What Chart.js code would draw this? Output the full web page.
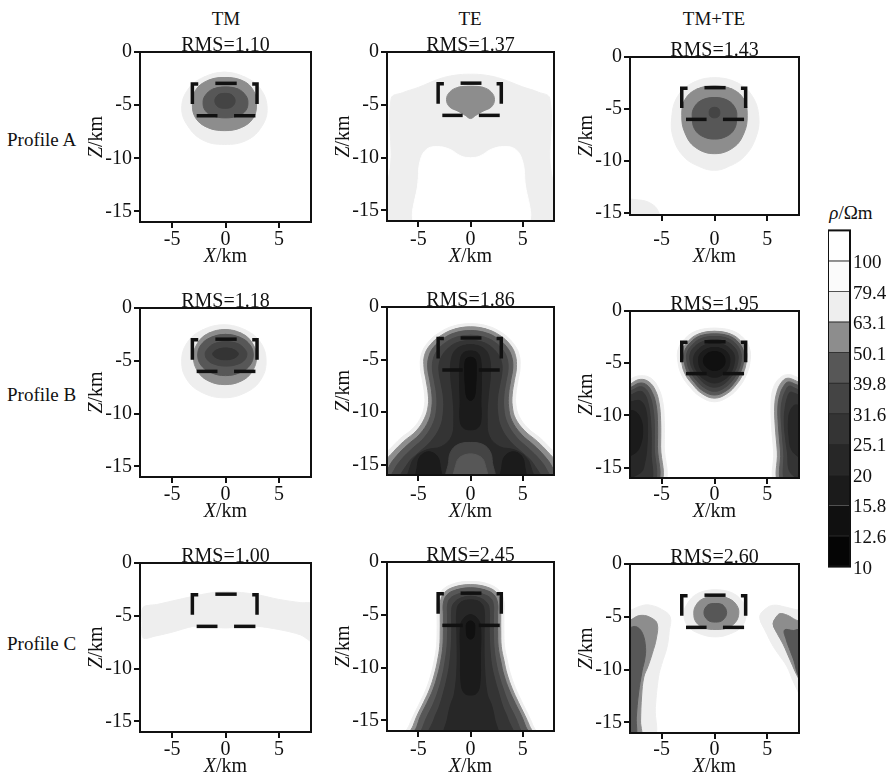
<!DOCTYPE html>
<html>
<head>
<meta charset="utf-8">
<title>Inversion results</title>
<script src="https://cdn.jsdelivr.net/npm/chart.js@4.4.1/dist/chart.umd.min.js"></script>
<style>
  html, body { margin: 0; padding: 0; background: #fff; }
  body { width: 891px; height: 783px; position: relative; overflow: hidden; font-family: 'Liberation Serif', 'Times New Roman', serif; }
  canvas { position: absolute; }
  .lbl { position: absolute; font-size: 19px; line-height: 19px; white-space: nowrap; color: #111; }
  .ctr { transform: translateX(-50%); }
</style>
</head>
<body>
<script>
const FAMILY = '"Liberation Serif", "Times New Roman", serif';
const TICK_SIZE = 20;
const TEXT_SIZE = 20;
const BAR_SIZE = 19;
const INK = '#111';

// axis ticks (km)
const xTickValues = [-5, 0, 5];
const yTickValues = [0, -5, -10, -15];

// resistivity levels (ohm-m), bottom to top of the colour bar
const levelLabels = ['10', '12.6', '15.8', '20', '25.1', '31.6', '39.8', '50.1', '63.1', '79.4', '100'];
const levelColors = ['#050505', '#101010', '#1b1b1b', '#272727', '#343434', '#444444', '#575757', '#8d8d8d', '#eeeeee', '#fbfbfb', '#ffffff'];

const modeNames = ['TM', 'TE', 'TM+TE'];
const profileNames = ['Profile A', 'Profile B', 'Profile C'];
const rmsValues = ['1.10', '1.37', '1.43', '1.18', '1.86', '1.95', '1.00', '2.45', '2.60'];

// model block outline (dashed), [x, z] in km
const blockOutline = [
  [[-0.95, -2.95], [1.05, -2.95]],
  [[-2.55, -3.0], [-3.1, -3.0], [-3.1, -4.9]],
  [[2.5, -3.0], [2.95, -3.0], [2.95, -4.9]],
  [[-2.7, -6.0], [-0.75, -6.0]],
  [[0.8, -6.0], [2.8, -6.0]]
];

// contour regions: [level index, boundary [x, z], tension]
const tmA = [
  [8, [[-0.1,-1.9],[1.9,-2.4],[3.3,-3.5],[3.9,-5.3],[3.4,-7.0],[2.0,-8.3],[-0.1,-8.7],[-2.1,-8.3],[-3.5,-7.0],[-4.1,-5.3],[-3.5,-3.5],[-2.1,-2.4]]],
  [7, [[-0.1,-2.4],[1.6,-2.7],[2.6,-3.6],[2.9,-4.9],[2.6,-6.2],[1.5,-7.1],[-0.1,-7.4],[-1.7,-7.1],[-2.8,-6.2],[-3.1,-4.9],[-2.8,-3.6],[-1.7,-2.7]]],
  [6, [[0,-3.3],[1.2,-3.5],[1.9,-4.1],[2.1,-4.75],[1.9,-5.5],[1.2,-6.0],[0,-6.2],[-1.2,-6.0],[-1.9,-5.5],[-2.1,-4.75],[-1.9,-4.1],[-1.2,-3.5]]],
  [5, [[-0.05,-3.9],[0.6,-4.05],[0.9,-4.6],[0.6,-5.15],[-0.05,-5.3],[-0.7,-5.15],[-1.0,-4.6],[-0.7,-4.05]]]
];

const teA = [
  [8, [[-7.6,-16.5],[-7.6,-10],[-7.6,-4.4],[-6.5,-3.85],[-5,-3.35],[-3,-2.55],[-1.5,-2.2],[0,-2.1],[1.5,-2.2],[3,-2.55],[5,-3.3],[6.5,-3.8],[7.6,-4.4],[7.6,-10],[7.6,-16.5]]],
  [10, [[-5.0,-16.5],[-5.0,-12],[-4.8,-10.2],[-4.2,-9.2],[-3.2,-8.95],[-2.0,-9.2],[-0.9,-9.85],[0,-10.0],[0.9,-9.85],[2.0,-9.2],[3.2,-8.95],[4.3,-9.2],[4.95,-10.2],[5.2,-12],[5.2,-16.5]]],
  [7, [[0,-3.25],[1.2,-3.35],[2.0,-3.8],[2.3,-4.5],[2.0,-5.2],[1.2,-5.6],[0.5,-6.0],[0,-6.3],[-0.5,-6.0],[-1.2,-5.6],[-2.0,-5.2],[-2.3,-4.5],[-2.0,-3.8],[-1.2,-3.35]]]
];

const jointA = [
  [8, [[0,-2.0],[2.2,-2.5],[3.6,-3.8],[4.2,-5.8],[3.9,-7.8],[2.8,-9.6],[1.2,-10.6],[0,-10.9],[-1.3,-10.6],[-2.9,-9.6],[-3.9,-7.8],[-4.05,-5.8],[-3.5,-3.8],[-2.1,-2.5]]],
  [7, [[0,-2.8],[1.7,-3.1],[2.8,-4.1],[3.1,-5.6],[2.8,-7.3],[1.8,-8.7],[0,-9.3],[-1.8,-8.7],[-2.8,-7.3],[-3.1,-5.6],[-2.8,-4.1],[-1.7,-3.1]]],
  [6, [[0,-3.9],[1.3,-4.2],[2.0,-5.0],[2.1,-5.9],[1.9,-6.9],[1.2,-7.6],[0,-7.9],[-1.2,-7.6],[-1.9,-6.9],[-2.1,-5.9],[-2.0,-5.0],[-1.3,-4.2]]],
  [5, [[0,-4.85],[0.4,-5.0],[0.5,-5.35],[0.4,-5.7],[0,-5.85],[-0.4,-5.7],[-0.5,-5.35],[-0.4,-5.0]]],
  [8, [[-8.5,-16.5],[-8.5,-13.9],[-7.2,-13.75],[-6.0,-14.1],[-5.3,-14.9],[-5.05,-16.5]]]
];

const tmB = [
  [8, [[-0.15,-1.6],[1.9,-2.1],[3.3,-3.3],[3.8,-5.05],[3.3,-6.8],[1.9,-8.0],[-0.15,-8.5],[-2.2,-8.0],[-3.6,-6.8],[-4.1,-5.05],[-3.6,-3.3],[-2.2,-2.1]]],
  [7, [[-0.05,-2.05],[1.5,-2.4],[2.5,-3.3],[2.9,-4.65],[2.5,-6.0],[1.5,-6.9],[-0.05,-7.25],[-1.6,-6.9],[-2.6,-6.0],[-3.0,-4.65],[-2.6,-3.3],[-1.6,-2.4]]],
  [6, [[0,-2.5],[1.4,-2.8],[2.3,-3.5],[2.6,-4.45],[2.3,-5.4],[1.4,-6.1],[0,-6.4],[-1.4,-6.1],[-2.3,-5.4],[-2.6,-4.45],[-2.3,-3.5],[-1.4,-2.8]]],
  [5, [[0.05,-3.2],[1.2,-3.4],[1.8,-3.9],[2.0,-4.35],[1.8,-4.9],[1.2,-5.3],[0.05,-5.5],[-1.1,-5.3],[-1.7,-4.9],[-1.9,-4.35],[-1.7,-3.9],[-1.1,-3.4]]],
  [4, [[0,-3.8],[0.8,-3.95],[1.2,-4.35],[0.8,-4.75],[0,-4.9],[-0.8,-4.75],[-1.2,-4.35],[-0.8,-3.95]]]
];

const teB = [
  [8, [[0,-1.6],[1.6,-1.8],[3.0,-2.45],[4.05,-3.4],[4.65,-4.5],[4.75,-5.8],[4.55,-7.0],[4.35,-8.3],[4.35,-9.3],[4.65,-10.4],[5.5,-11.55],[6.7,-12.5],[7.7,-13.5],[8.5,-14.3],[8.8,-16.5],
       [-8.8,-16.5],[-8.5,-14.3],[-7.7,-13.5],[-6.7,-12.5],[-5.5,-11.55],[-4.7,-10.4],[-4.4,-9.3],[-4.4,-8.3],[-4.6,-7.0],[-4.8,-5.8],[-4.7,-4.5],[-4.1,-3.4],[-3.0,-2.45],[-1.6,-1.8]]],
  [7, [[0,-1.9],[1.5,-2.1],[2.8,-2.7],[3.8,-3.6],[4.3,-4.6],[4.4,-5.8],[4.2,-7.0],[4.0,-8.3],[4.0,-9.4],[4.3,-10.6],[5.2,-11.8],[6.4,-12.8],[7.4,-13.8],[8.2,-14.8],[8.6,-16.5],
       [-8.6,-16.5],[-8.2,-14.8],[-7.4,-13.8],[-6.4,-12.8],[-5.2,-11.8],[-4.4,-10.6],[-4.05,-9.4],[-4.05,-8.3],[-4.25,-7.0],[-4.45,-5.8],[-4.4,-4.6],[-3.85,-3.6],[-2.8,-2.7],[-1.5,-2.1]]],
  [6, [[0,-2.25],[1.45,-2.45],[2.6,-3.0],[3.5,-3.85],[3.95,-4.75],[4.05,-5.8],[3.85,-7.0],[3.65,-8.3],[3.65,-9.5],[3.95,-10.8],[4.85,-12.1],[6.05,-13.15],[7.05,-14.15],[7.8,-15.2],[8.2,-16.5],
       [-8.2,-16.5],[-7.8,-15.2],[-7.05,-14.15],[-6.05,-13.15],[-4.85,-12.1],[-4.0,-10.8],[-3.7,-9.5],[-3.7,-8.3],[-3.9,-7.0],[-4.1,-5.8],[-4.0,-4.75],[-3.55,-3.85],[-2.6,-3.0],[-1.45,-2.45]]],
  [5, [[0,-2.7],[1.4,-2.9],[2.4,-3.4],[3.1,-4.1],[3.5,-4.9],[3.6,-5.9],[3.4,-7.1],[3.2,-8.4],[3.2,-9.7],[3.5,-11.0],[4.4,-12.4],[5.6,-13.5],[6.6,-14.5],[7.3,-15.5],[7.6,-16.5],
       [-7.6,-16.5],[-7.3,-15.5],[-6.6,-14.5],[-5.6,-13.5],[-4.4,-12.4],[-3.55,-11.0],[-3.25,-9.7],[-3.25,-8.4],[-3.45,-7.1],[-3.65,-5.9],[-3.55,-4.9],[-3.15,-4.1],[-2.4,-3.4],[-1.4,-2.9]]],
  [4, [[0,-3.2],[1.3,-3.4],[2.1,-3.9],[2.7,-4.6],[3.0,-5.4],[3.0,-6.3],[2.8,-7.4],[2.6,-8.6],[2.6,-10.0],[2.9,-11.4],[3.8,-12.8],[5.0,-13.9],[6.0,-14.9],[6.6,-16.5],
       [-6.6,-16.5],[-6.0,-14.9],[-5.0,-13.9],[-3.8,-12.8],[-2.9,-11.4],[-2.6,-10.0],[-2.6,-8.6],[-2.8,-7.4],[-3.0,-6.3],[-3.0,-5.4],[-2.7,-4.6],[-2.1,-3.9],[-1.3,-3.4]]],
  [3, [[0,-3.6],[1.2,-3.9],[1.8,-4.8],[1.9,-6.5],[1.7,-8.5],[1.6,-10.5],[1.8,-12.3],[2.8,-13.3],[4.2,-13.6],[5.3,-14.3],[5.8,-15.3],[5.9,-16.5],
       [-5.9,-16.5],[-5.8,-15.3],[-5.3,-14.3],[-4.2,-13.6],[-2.8,-13.3],[-1.8,-12.3],[-1.6,-10.5],[-1.7,-8.5],[-1.9,-6.5],[-1.8,-4.8],[-1.2,-3.9]]],
  [5, [[0,-12.9],[1.2,-13.1],[1.9,-13.8],[2.1,-14.8],[2.2,-16.5],[-2.2,-16.5],[-2.1,-14.8],[-1.9,-13.8],[-1.2,-13.1]]],
  [6, [[0,-14.0],[1.0,-14.3],[1.4,-15.0],[1.5,-16.5],[-1.5,-16.5],[-1.4,-15.0],[-1.0,-14.3]]],
  [2, [[0,-4.2],[0.7,-4.4],[1.0,-5.2],[1.05,-7],[1.0,-9],[1.0,-10.8],[0.7,-11.5],[0,-11.7],[-0.7,-11.5],[-1.0,-10.8],[-1.0,-9],[-1.05,-7],[-1.0,-5.2],[-0.7,-4.4]]],
  [2, [[-4.0,-13.8],[-3.2,-14.2],[-2.9,-15.2],[-2.9,-16.5],[-5.1,-16.5],[-5.1,-15.2],[-4.8,-14.2]]],
  [2, [[4.1,-13.8],[4.9,-14.2],[5.2,-15.2],[5.2,-16.5],[3.0,-16.5],[3.0,-15.2],[3.3,-14.2]]],
  [1, [[0,-4.8],[0.45,-5.0],[0.55,-6.0],[0.5,-7.5],[0.35,-8.6],[0,-8.9],[-0.35,-8.6],[-0.5,-7.5],[-0.55,-6.0],[-0.45,-5.0]]]
];

const jointB = [
  [8, [[0,-1.65],[1.7,-1.9],[2.8,-2.65],[3.35,-3.7],[3.35,-4.95],[3.0,-6.15],[2.35,-7.25],[1.35,-8.2],[0,-8.7],[-1.35,-8.2],[-2.35,-7.25],[-3.1,-6.15],[-3.45,-4.95],[-3.45,-3.7],[-2.8,-2.65],[-1.7,-1.9]]],
  [7, [[0,-1.95],[1.5,-2.2],[2.5,-2.9],[3.0,-3.8],[3.0,-4.9],[2.7,-6.0],[2.1,-7.0],[1.2,-7.9],[0,-8.35],[-1.2,-7.9],[-2.1,-7.0],[-2.8,-6.0],[-3.1,-4.9],[-3.1,-3.8],[-2.5,-2.9],[-1.5,-2.2]]],
  [6, [[0,-2.2],[1.4,-2.4],[2.3,-3.05],[2.75,-3.9],[2.75,-4.9],[2.45,-5.9],[1.9,-6.85],[1.1,-7.65],[0,-8.05],[-1.1,-7.65],[-1.9,-6.85],[-2.55,-5.9],[-2.85,-4.9],[-2.85,-3.9],[-2.3,-3.05],[-1.4,-2.4]]],
  [5, [[0,-2.45],[1.3,-2.65],[2.1,-3.25],[2.5,-4.0],[2.5,-4.9],[2.2,-5.8],[1.7,-6.65],[0.95,-7.35],[0,-7.7],[-0.95,-7.35],[-1.7,-6.65],[-2.3,-5.8],[-2.6,-4.9],[-2.6,-4.0],[-2.1,-3.25],[-1.3,-2.65]]],
  [4, [[0,-2.75],[1.15,-2.95],[1.85,-3.45],[2.2,-4.1],[2.2,-4.9],[1.95,-5.7],[1.45,-6.45],[0.8,-7.05],[0,-7.3],[-0.8,-7.05],[-1.45,-6.45],[-2.0,-5.7],[-2.3,-4.9],[-2.3,-4.1],[-1.9,-3.45],[-1.15,-2.95]]],
  [3, [[0,-3.1],[1.0,-3.3],[1.6,-3.75],[1.9,-4.35],[1.85,-5.1],[1.6,-5.8],[1.1,-6.45],[0,-6.9],[-1.1,-6.45],[-1.65,-5.8],[-1.95,-5.1],[-1.95,-4.35],[-1.6,-3.75],[-1.0,-3.3]]],
  [2, [[0,-3.5],[0.85,-3.7],[1.35,-4.2],[1.45,-4.9],[1.2,-5.65],[0.6,-6.2],[0,-6.35],[-0.6,-6.2],[-1.25,-5.65],[-1.5,-4.9],[-1.4,-4.2],[-0.85,-3.7]]],
  [1, [[0,-3.9],[0.7,-4.1],[1.0,-4.7],[0.8,-5.35],[0,-5.7],[-0.8,-5.35],[-1.05,-4.7],[-0.7,-4.1]]],
  // western body
  [8, [[-8.5,-7.2],[-7.9,-6.5],[-7.0,-6.2],[-6.0,-6.45],[-5.3,-7.4],[-4.9,-8.7],[-4.75,-10.5],[-4.75,-13],[-4.8,-16.5],[-8.5,-16.5]]],
  [7, [[-8.5,-7.6],[-7.8,-6.9],[-7.0,-6.55],[-6.2,-6.8],[-5.6,-7.6],[-5.25,-8.8],[-5.1,-10.5],[-5.1,-13],[-5.15,-16.5],[-8.5,-16.5]]],
  [6, [[-8.5,-7.9],[-7.7,-7.2],[-7.0,-6.9],[-6.4,-7.1],[-5.9,-7.8],[-5.55,-8.9],[-5.4,-10.5],[-5.4,-13],[-5.45,-16.5],[-8.5,-16.5]]],
  [5, [[-8.5,-8.2],[-7.6,-7.5],[-7.0,-7.25],[-6.5,-7.5],[-6.1,-8.2],[-5.85,-9.2],[-5.7,-10.7],[-5.7,-13],[-5.75,-16.5],[-8.5,-16.5]]],
  [4, [[-8.5,-8.6],[-7.6,-7.9],[-7.0,-7.7],[-6.6,-8.0],[-6.3,-8.8],[-6.1,-10],[-6.0,-11.5],[-6.0,-13.5],[-6.1,-16.5],[-8.5,-16.5]]],
  [3, [[-8.5,-9.2],[-7.5,-8.6],[-6.9,-8.7],[-6.5,-9.5],[-6.35,-11],[-6.4,-13],[-6.6,-14.5],[-7.0,-15.5],[-8.5,-15.8]]],
  [2, [[-8.5,-9.8],[-7.6,-9.6],[-7.0,-10.3],[-6.8,-11.5],[-7.0,-12.8],[-7.5,-13.6],[-8.5,-13.8]]],
  // eastern body
  [8, [[8.5,-7.0],[7.7,-6.3],[6.8,-6.1],[6.0,-6.6],[5.5,-7.6],[5.35,-9.0],[5.4,-11],[5.6,-13.5],[5.75,-16.5],[8.5,-16.5]]],
  [7, [[8.5,-7.3],[7.6,-6.65],[6.85,-6.45],[6.3,-6.9],[5.9,-7.8],[5.7,-9.1],[5.75,-11],[5.95,-13.5],[6.1,-16.5],[8.5,-16.5]]],
  [6, [[8.5,-7.6],[7.6,-7.0],[6.95,-6.8],[6.55,-7.2],[6.2,-8.0],[6.0,-9.2],[6.05,-11],[6.25,-13.5],[6.4,-16.5],[8.5,-16.5]]],
  [5, [[8.5,-8.0],[7.6,-7.4],[7.05,-7.2],[6.75,-7.6],[6.45,-8.4],[6.3,-9.5],[6.35,-11],[6.55,-13.5],[6.75,-16.5],[8.5,-16.5]]],
  [4, [[8.5,-8.5],[7.6,-7.9],[7.15,-7.8],[6.9,-8.3],[6.7,-9.2],[6.6,-10.5],[6.7,-12],[6.9,-13.5],[7.2,-15.5],[8.5,-16]]],
  [3, [[8.5,-9.5],[7.7,-9.0],[7.2,-9.5],[7.0,-10.5],[7.05,-12],[7.3,-13.3],[8.0,-14],[8.5,-14.2]]]
];

const tmC = [
  [8, [[-7.7,-4.2],[-6.5,-3.95],[-5,-3.6],[-3,-3.15],[-1.5,-2.85],[0,-2.7],[1.5,-2.8],[3,-3.0],[5,-3.45],[7,-3.75],[8.5,-3.95],[8.5,-7.6],[7,-6.8],[5,-6.3],[3,-6.0],[1.5,-6.05],[0,-6.15],[-1.5,-6.05],[-3,-6.0],[-5,-6.55],[-6.5,-6.9],[-7.7,-7.1],[-7.8,-5.6]], 0.3]
];

const teC = [
  [8, [[0,-1.85],[1.6,-2.05],[2.75,-2.7],[3.2,-3.7],[3.2,-5],[3.2,-6.5],[3.25,-7.9],[3.5,-9.2],[3.8,-10.5],[4.3,-11.9],[4.9,-13.2],[5.5,-14.4],[5.95,-15.4],[6.3,-16.5],
       [-6.2,-16.5],[-5.85,-15.4],[-5.4,-14.4],[-4.8,-13.2],[-4.2,-11.9],[-3.75,-10.5],[-3.45,-9.2],[-3.25,-7.9],[-3.2,-6.5],[-3.2,-5],[-3.2,-3.7],[-2.75,-2.7],[-1.6,-2.05]]],
  [7, [[0,-2.15],[1.5,-2.35],[2.5,-2.9],[2.9,-3.8],[2.9,-5],[2.9,-6.5],[2.95,-8.0],[3.2,-9.3],[3.5,-10.6],[4.0,-12.0],[4.6,-13.3],[5.2,-14.5],[5.65,-15.5],[6.0,-16.5],
       [-5.85,-16.5],[-5.5,-15.5],[-5.1,-14.5],[-4.5,-13.3],[-3.9,-12.0],[-3.45,-10.6],[-3.15,-9.3],[-2.95,-8.0],[-2.9,-6.5],[-2.9,-5],[-2.9,-3.8],[-2.5,-2.9],[-1.5,-2.35]]],
  [6, [[0,-2.45],[1.4,-2.65],[2.25,-3.1],[2.6,-3.9],[2.6,-5],[2.6,-6.5],[2.65,-8.0],[2.9,-9.4],[3.2,-10.7],[3.7,-12.1],[4.3,-13.4],[4.9,-14.6],[5.3,-15.6],[5.65,-16.5],
       [-5.5,-16.5],[-5.15,-15.6],[-4.8,-14.6],[-4.2,-13.4],[-3.6,-12.1],[-3.15,-10.7],[-2.85,-9.4],[-2.65,-8.0],[-2.6,-6.5],[-2.6,-5],[-2.6,-3.9],[-2.25,-3.1],[-1.4,-2.65]]],
  [5, [[0,-2.85],[1.2,-3.05],[1.95,-3.45],[2.2,-4.1],[2.2,-5],[2.2,-6.5],[2.25,-8.0],[2.45,-9.5],[2.75,-10.8],[3.2,-12.2],[3.7,-13.5],[4.3,-14.7],[4.7,-15.7],[5.0,-16.5],
       [-4.9,-16.5],[-4.6,-15.7],[-4.2,-14.7],[-3.6,-13.5],[-3.1,-12.2],[-2.7,-10.8],[-2.45,-9.5],[-2.25,-8.0],[-2.2,-6.5],[-2.2,-5],[-2.2,-4.1],[-1.95,-3.45],[-1.2,-3.05]]],
  [4, [[0,-3.25],[1.0,-3.45],[1.6,-3.9],[1.8,-4.5],[1.8,-6.5],[1.85,-8.0],[2.0,-9.6],[2.3,-11],[2.7,-12.4],[3.1,-13.7],[3.6,-14.9],[4.0,-16.5],
       [-3.9,-16.5],[-3.5,-14.9],[-3.0,-13.7],[-2.6,-12.4],[-2.25,-11],[-2.0,-9.6],[-1.85,-8.0],[-1.8,-6.5],[-1.8,-4.5],[-1.6,-3.9],[-1.0,-3.45]]],
  [3, [[0,-3.6],[0.9,-3.8],[1.3,-4.5],[1.3,-7],[1.35,-10],[1.6,-12.5],[2.0,-13.5],[2.3,-14.8],[2.5,-16.5],
       [-2.4,-16.5],[-2.2,-14.8],[-1.9,-13.5],[-1.55,-12.5],[-1.3,-10],[-1.3,-7],[-1.3,-4.5],[-0.9,-3.8]]],
  [2, [[0,-5.0],[0.6,-5.3],[0.95,-6.0],[0.95,-9],[0.9,-11.5],[0.6,-12.4],[0,-12.6],[-0.6,-12.4],[-0.9,-11.5],[-0.95,-9],[-0.95,-6.0],[-0.6,-5.3]]],
  [1, [[0,-5.6],[0.35,-5.8],[0.4,-6.5],[0.3,-7.1],[0,-7.3],[-0.3,-7.1],[-0.4,-6.5],[-0.35,-5.8]]]
];

const jointC = [
  [8, [[0.1,-2.45],[1.8,-2.8],[2.8,-3.8],[3.0,-4.8],[2.6,-5.9],[1.5,-6.6],[0.1,-6.9],[-1.4,-6.6],[-2.5,-5.9],[-2.9,-4.8],[-2.6,-3.8],[-1.6,-2.8]]],
  [7, [[0.15,-3.05],[1.4,-3.3],[2.1,-3.9],[2.3,-4.65],[2.0,-5.5],[1.2,-6.05],[0.15,-6.2],[-1.0,-6.05],[-1.75,-5.5],[-1.96,-4.65],[-1.75,-3.9],[-1.1,-3.3]]],
  [6, [[0.1,-3.75],[0.8,-3.9],[1.15,-4.6],[0.8,-5.3],[0.1,-5.5],[-0.65,-5.3],[-1.0,-4.6],[-0.65,-3.9]]],
  // western flank
  [8, [[-8.5,-4.5],[-7.9,-4.35],[-6.9,-3.95],[-6.07,-3.9],[-5.0,-4.3],[-4.2,-5.0],[-4.3,-6.5],[-4.5,-7.9],[-5.0,-9.5],[-5.3,-10.7],[-5.6,-13.6],[-5.75,-16.5],[-8.5,-16.5]]],
  [7, [[-8.5,-6.0],[-7.6,-5.1],[-6.85,-4.86],[-6.0,-5.1],[-5.43,-5.65],[-5.5,-7.0],[-5.9,-8.5],[-6.3,-9.7],[-6.69,-10.7],[-6.9,-12.5],[-7.0,-14.85],[-7.0,-16.5],[-8.5,-16.5]]],
  [6, [[-8.5,-6.5],[-7.9,-6.0],[-7.33,-5.97],[-6.8,-6.6],[-6.53,-7.9],[-6.6,-9.0],[-6.85,-10.1],[-7.2,-12.3],[-7.4,-14.5],[-7.5,-16.5],[-8.5,-16.5]]],
  // eastern flank
  [8, [[4.3,-5.0],[4.9,-4.2],[5.6,-3.9],[6.6,-4.05],[7.6,-4.3],[8.5,-4.5],[8.5,-13.5],[8.0,-12.3],[7.4,-11.0],[6.85,-9.7],[6.1,-8.6],[5.56,-7.8],[4.9,-6.5]]],
  [7, [[5.56,-5.65],[5.9,-4.95],[6.2,-4.7],[6.9,-4.85],[7.7,-5.3],[8.5,-5.6],[8.5,-11.5],[8.0,-10.9],[7.16,-9.1],[6.5,-7.6],[5.9,-6.5]]],
  [6, [[8.5,-6.2],[7.5,-6.3],[6.63,-6.25],[6.8,-7.2],[7.2,-8.3],[7.5,-9.1],[8.0,-10.7],[8.5,-10.9]]]
];

const panelRegions = [tmA, teA, jointA, tmB, teB, jointB, tmC, teC, jointC];

// plot-area placement on the page: [left, top, right, bottom], lower depth limit
const panelLayout = [
  { rect: [140, 52, 311, 222], zMin: -16 },
  { rect: [387, 52, 554, 221], zMin: -16 },
  { rect: [630, 57, 799, 215], zMin: -15.2 },
  { rect: [140, 308, 311, 477], zMin: -16 },
  { rect: [387, 307, 554, 475], zMin: -16 },
  { rect: [630, 311, 799, 478], zMin: -16 },
  { rect: [140, 563, 311, 732], zMin: -16 },
  { rect: [387, 562, 554, 731], zMin: -16 },
  { rect: [630, 564, 799, 733], zMin: -16 }
];
const rowBottoms = [222, 477, 732];

const ML = 60, MT = 30, MR = 8, MB = 56;

function fontStr(style, size) { return `${style} ${size}px ${FAMILY}`; }

function drawMixed(ctx, parts, x, y, size) {
  const widths = parts.map(([st, t]) => { ctx.font = fontStr(st, size); return ctx.measureText(t).width; });
  let cx = x - widths.reduce((a, b) => a + b, 0) / 2;
  ctx.textAlign = 'left';
  ctx.textBaseline = 'alphabetic';
  parts.forEach(([st, t], i) => { ctx.font = fontStr(st, size); ctx.fillText(t, cx, y); cx += widths[i]; });
}

const panelDecor = {
  id: 'panelDecor',
  afterDraw(chart, args, opts) {
    const { ctx, chartArea: { left, top, right, bottom } } = chart;
    ctx.save();
    ctx.strokeStyle = INK;
    ctx.lineWidth = 2;
    ctx.strokeRect(left, top, right - left, bottom - top);
    ctx.fillStyle = INK;
    ctx.font = fontStr('normal', TEXT_SIZE);
    ctx.textAlign = 'center';
    ctx.textBaseline = 'alphabetic';
    ctx.fillText('RMS=' + opts.rms, (left + right) / 2, top - 1);
    drawMixed(ctx, [['italic', 'X'], ['normal', '/km']], (left + right) / 2, opts.xTitleY, TEXT_SIZE);
    ctx.translate(left - 38, (top + bottom) / 2);
    ctx.rotate(-Math.PI / 2);
    drawMixed(ctx, [['italic', 'Z'], ['normal', '/km']], 0, 0, TEXT_SIZE);
    ctx.restore();
  }
};

function ring(pts, smooth) {
  const seq = smooth ? [pts[pts.length - 1], ...pts, pts[0], pts[1]] : [...pts, pts[0]];
  return seq.map(([x, y]) => ({ x, y }));
}

function makePanel(idx) {
  const { rect: [l, t, r, b], zMin } = panelLayout[idx];
  const rowBottom = rowBottoms[Math.floor(idx / 3)];
  const cv = document.createElement('canvas');
  cv.width = (r - l) + ML + MR;
  cv.height = (b - t) + MT + MB;
  cv.style.left = (l - ML) + 'px';
  cv.style.top = (t - MT) + 'px';
  document.body.appendChild(cv);

  const datasets = [];
  panelRegions[idx].forEach(([lv, pts, ten], i) => {
    const tension = ten === undefined ? 0.4 : ten;
    datasets.push({
      data: ring(pts, tension > 0),
      backgroundColor: levelColors[lv],
      borderColor: levelColors[lv],
      borderWidth: 1,
      fill: 'shape',
      tension,
      pointRadius: 0,
      order: 1000 - i
    });
  });
  blockOutline.forEach(seg => {
    datasets.push({
      data: seg.map(([x, y]) => ({ x, y })),
      borderColor: INK,
      borderWidth: 3.5,
      borderCapStyle: 'butt',
      borderJoinStyle: 'miter',
      fill: false,
      tension: 0,
      pointRadius: 0,
      order: 0
    });
  });

  const tickFont = { family: FAMILY, size: TICK_SIZE };
  new Chart(cv, {
    type: 'line',
    data: { datasets },
    plugins: [panelDecor],
    options: {
      responsive: false,
      devicePixelRatio: 1,
      animation: false,
      events: [],
      layout: { padding: { top: MT, right: MR, left: 0, bottom: 0 } },
      elements: { line: { capBezierPoints: false } },
      plugins: {
        legend: { display: false },
        tooltip: { enabled: false },
        panelDecor: { rms: rmsValues[idx], xTitleY: rowBottom + 40 - (t - MT) }
      },
      scales: {
        x: {
          type: 'linear', position: 'bottom', min: -8, max: 8,
          afterBuildTicks: s => { s.ticks = xTickValues.map(v => ({ value: v })); },
          afterFit: s => { s.height = MB; },
          grid: { drawOnChartArea: false, drawTicks: true, tickLength: 6, color: INK, lineWidth: 2 },
          border: { display: false },
          ticks: { color: INK, font: tickFont, padding: 0 + (rowBottom - b), maxRotation: 0, autoSkip: false, callback: v => String(v) }
        },
        y: {
          type: 'linear', position: 'left', min: zMin, max: 0,
          afterBuildTicks: s => { s.ticks = yTickValues.map(v => ({ value: v })); },
          afterFit: s => { s.width = ML; },
          grid: { drawOnChartArea: false, drawTicks: true, tickLength: 6, color: INK, lineWidth: 2 },
          border: { display: false },
          ticks: { color: INK, font: tickFont, padding: 2, autoSkip: false, callback: v => String(v) }
        }
      }
    }
  });
}

// colour bar
const CB = { left: 828, top: 230, right: 850, bottom: 567, labelW: 45, pad: 14 };
const cbFrame = {
  id: 'cbFrame',
  afterDraw(chart) {
    const { ctx, chartArea: { left, top, right, bottom } } = chart;
    ctx.save();
    ctx.strokeStyle = INK;
    ctx.lineWidth = 2;
    ctx.strokeRect(left, top, right - left, bottom - top);
    ctx.restore();
  }
};
function makeColorBar() {
  const cv = document.createElement('canvas');
  cv.width = (CB.right - CB.left) + CB.labelW;
  cv.height = (CB.bottom - CB.top) + 2 * CB.pad;
  cv.style.left = CB.left + 'px';
  cv.style.top = (CB.top - CB.pad) + 'px';
  document.body.appendChild(cv);
  new Chart(cv, {
    type: 'bar',
    data: {
      labels: [''],
      datasets: levelColors.map(c => ({
        data: [1], backgroundColor: c, borderColor: '#2a2a2a', borderWidth: 0.8,
        borderSkipped: false, barPercentage: 1, categoryPercentage: 1
      }))
    },
    plugins: [cbFrame],
    options: {
      responsive: false,
      devicePixelRatio: 1,
      animation: false,
      events: [],
      layout: { padding: { top: CB.pad, bottom: CB.pad, left: 0, right: 0 } },
      plugins: { legend: { display: false }, tooltip: { enabled: false } },
      scales: {
        x: { stacked: true, display: false },
        y: {
          stacked: true, position: 'right', min: 0, max: levelColors.length,
          afterBuildTicks: s => { s.ticks = levelLabels.map((_, i) => ({ value: i })); },
          afterFit: s => { s.width = CB.labelW; },
          grid: { display: true, drawOnChartArea: false, drawTicks: false, tickLength: 0 },
          border: { display: false },
          ticks: { color: INK, font: { family: FAMILY, size: BAR_SIZE }, padding: 3, labelOffset: 2, autoSkip: false,
                   callback: v => levelLabels[v] }
        }
      }
    }
  });
}

// headers and row labels
function addLabel(html, x, baseline, centered) {
  const d = document.createElement('div');
  d.className = 'lbl' + (centered ? ' ctr' : '');
  d.innerHTML = html;
  d.style.left = x + 'px';
  d.style.top = (baseline - 15.9) + 'px';
  document.body.appendChild(d);
}
const headerCenters = [226, 470, 714];
modeNames.forEach((m, i) => addLabel(m, headerCenters[i], 25, true));
const profileBaselines = [146, 401, 650];
profileNames.forEach((p, i) => addLabel(p, 7, profileBaselines[i], false));
addLabel('<i>ρ</i>/Ωm', 851, 219, true);

Chart.defaults.font.family = FAMILY;

for (let i = 0; i < 9; i++) makePanel(i);
makeColorBar();
</script>
</body>
</html>
